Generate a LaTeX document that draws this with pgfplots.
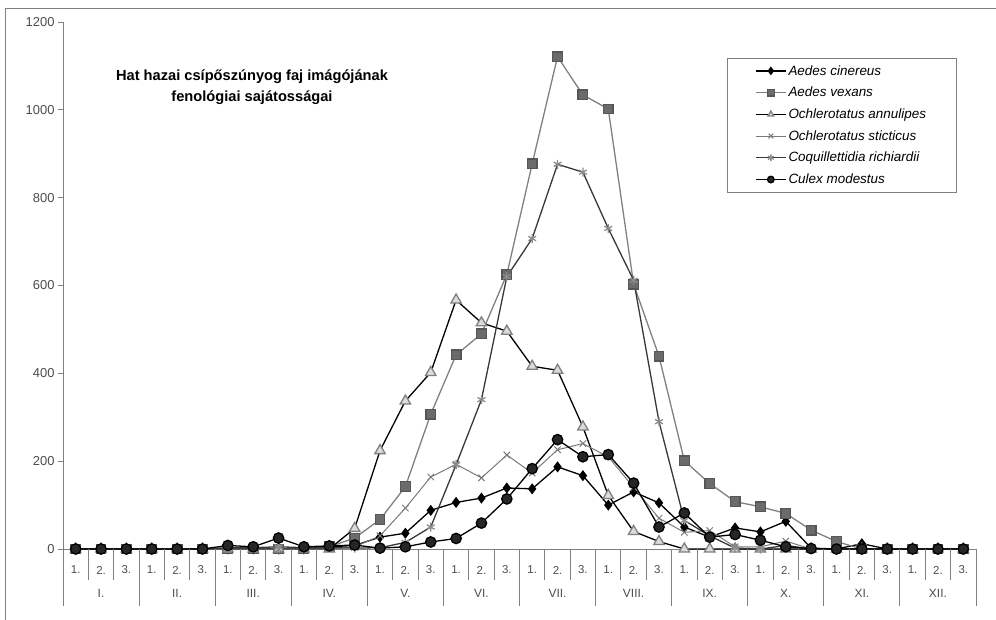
\documentclass[border=0pt]{standalone}
\usepackage{pgfplots}
\pgfplotsset{compat=1.18}
\usepackage{fontspec}
\setmainfont{Liberation Sans}
\definecolor{vexgray}{gray}{0.5}
\definecolor{vexfill}{gray}{0.42}
\definecolor{stigray}{gray}{0.48}
\definecolor{coqgray}{gray}{0.22}
\definecolor{coqmark}{gray}{0.55}
\definecolor{trifill}{gray}{0.86}
\definecolor{axgray}{gray}{0.5}
\definecolor{txtgray}{gray}{0.3}
\begin{document}
\begin{tikzpicture}[
  lbl/.style={font=\fontsize{11.5}{13}\selectfont, text=txtgray, yshift=-21bp},
  mlbl/.style={font=\fontsize{12}{13}\selectfont, text=txtgray, yshift=-44bp}]
\useasboundingbox (0,0) rectangle (996bp,620bp);
\draw[axgray, line width=0.9bp] (5bp,-5bp) -- (5bp,612bp) -- (1005bp,612bp);
\begin{axis}[
  at={(63bp,71bp)}, anchor=south west,
  scale only axis, width=913bp, height=527bp,
  xmin=0.5, xmax=36.5, ymin=0, ymax=1200,
  clip=false,
  axis x line*=bottom, axis y line*=left,
  axis line style={axgray, line width=0.9bp},
  xtick=\empty,
  ytick={0,200,...,1200},
  tick align=outside, major tick length=5bp,
  tick style={axgray, line width=0.9bp},
  yticklabel style={font=\fontsize{13}{15}\selectfont, text=txtgray},
  /pgf/number format/assume math mode=true,
  /pgf/number format/1000 sep={},
  legend style={at={(0.727,0.932)}, anchor=north west, draw=axgray, line width=0.9bp,
    font=\itshape\fontsize{13.5}{15}\selectfont, inner xsep=28bp, inner ysep=5bp,
    row sep=6.5bp, cells={anchor=west}},
  legend image code/.code={\draw[mark repeat=2,mark phase=2,#1, mark size=3.3bp] plot coordinates {(0bp,0bp) (15bp,0bp) (30bp,0bp)};},
]
% Aedes cinereus
\addplot[black, line width=1.3bp, mark=diamond*, mark size=4.5bp, mark options={fill=black, solid}] coordinates {
(1,0)(2,0)(3,0)(4,0)(5,0)(6,0)(7,0)(8,0)(9,0)(10,0)(11,5)(12,8)
(13,27)(14,36)(15,88)(16,106)(17,116)(18,139)(19,137)(20,187)(21,167)
(22,100)(23,130)(24,105)(25,50)(26,27)(27,48)(28,39)(29,63)(30,2)
(31,0)(32,12)(33,0)(34,0)(35,0)(36,0)};
\addlegendentry{Aedes cinereus}
% Aedes vexans
\addplot[vexgray, line width=1.3bp, mark=square*, mark size=4.8bp, mark options={fill=vexfill, draw=vexfill!80!black, solid}] coordinates {
(1,0)(2,0)(3,0)(4,0)(5,0)(6,0)(7,0)(8,0)(9,0)(10,0)(11,5)(12,25)
(13,67)(14,142)(15,307)(16,442)(17,490)(18,625)(19,877)(20,1121)(21,1034)
(22,1002)(23,603)(24,439)(25,201)(26,149)(27,108)(28,96)(29,81)(30,43)
(31,17)(32,0)(33,0)(34,0)(35,0)(36,0)};
\addlegendentry{Aedes vexans}
% Ochlerotatus annulipes
\addplot[black, line width=1.3bp, mark=triangle*, mark size=6bp, mark options={fill=trifill, draw=axgray, solid}] coordinates {
(1,0)(2,0)(3,0)(4,0)(5,0)(6,0)(7,0)(8,0)(9,0)(10,0)(11,0)(12,47)
(13,224)(14,337)(15,402)(16,567)(17,515)(18,496)(19,416)(20,407)(21,278)
(22,122)(23,40)(24,17)(25,0)(26,0)(27,0)(28,0)(29,0)(30,0)
(31,0)(32,0)(33,0)(34,0)(35,0)(36,0)};
\addlegendentry{Ochlerotatus annulipes}
% Ochlerotatus sticticus
\addplot[stigray, line width=1bp, mark=x, mark size=4.5bp, mark options={stigray, solid}] coordinates {
(1,0)(2,0)(3,0)(4,0)(5,0)(6,0)(7,0)(8,0)(9,0)(10,0)(11,0)(12,5)
(13,30)(14,93)(15,164)(16,193)(17,162)(18,214)(19,173)(20,226)(21,240)
(22,210)(23,140)(24,70)(25,38)(26,42)(27,5)(28,5)(29,18)(30,0)
(31,0)(32,0)(33,0)(34,0)(35,0)(36,0)};
\addlegendentry{Ochlerotatus sticticus}
% Coquillettidia richiardii
\addplot[coqgray, line width=1.3bp, mark=asterisk, mark size=4.5bp, mark options={coqmark, solid}] coordinates {
(1,0)(2,0)(3,0)(4,0)(5,0)(6,0)(7,3)(8,3)(9,5)(10,3)(11,3)(12,2)
(13,3)(14,15)(15,50)(16,192)(17,340)(18,620)(19,707)(20,876)(21,858)
(22,730)(23,612)(24,290)(25,65)(26,30)(27,2)(28,0)(29,8)(30,0)
(31,0)(32,0)(33,0)(34,0)(35,0)(36,0)};
\addlegendentry{Coquillettidia richiardii}
% Culex modestus
\addplot[black, line width=1.3bp, mark=*, mark size=5.2bp, mark options={fill=black!85, draw=black, solid}] coordinates {
(1,0)(2,0)(3,0)(4,0)(5,0)(6,0)(7,8)(8,5)(9,25)(10,5)(11,7)(12,9)
(13,2)(14,5)(15,16)(16,24)(17,59)(18,114)(19,183)(20,249)(21,210)
(22,215)(23,150)(24,50)(25,82)(26,27)(27,33)(28,20)(29,5)(30,1)
(31,0)(32,0)(33,0)(34,0)(35,0)(36,0)};
\addlegendentry{Culex modestus}
% category axis decoration
\pgfplotsinvokeforeach{1.5,2.5,4.5,5.5,7.5,8.5,10.5,11.5,13.5,14.5,16.5,17.5,19.5,20.5,22.5,23.5,25.5,26.5,28.5,29.5,31.5,32.5,34.5,35.5}{
  \draw[axgray, line width=0.9bp] (axis cs:#1,0) -- ([yshift=-31bp]axis cs:#1,0);}
\pgfplotsinvokeforeach{0.5,3.5,6.5,9.5,12.5,15.5,18.5,21.5,24.5,27.5,30.5,33.5,36.5}{
  \draw[axgray, line width=0.9bp] (axis cs:#1,0) -- ([yshift=-57bp]axis cs:#1,0);}
\pgfplotsinvokeforeach{1,4,7,10,13,16,19,22,25,28,31,34}{\node[lbl] at (axis cs:#1,0) {1.};}
\pgfplotsinvokeforeach{2,5,8,11,14,17,20,23,26,29,32,35}{\node[lbl] at (axis cs:#1,0) {2.};}
\pgfplotsinvokeforeach{3,6,9,12,15,18,21,24,27,30,33,36}{\node[lbl] at (axis cs:#1,0) {3.};}
\foreach \x/\m in {2/I.,5/II.,8/III.,11/IV.,14/V.,17/VI.,20/VII.,23/VIII.,26/IX.,29/X.,32/XI.,35/XII.}{
  \edef\temp{\noexpand\node[mlbl] at (axis cs:\x,0) {\m};}\temp}
\node[align=center, font=\bfseries\fontsize{14.7}{21}\selectfont] at (rel axis cs:0.207,0.876)
  {Hat hazai csípőszúnyog faj imágójának\\fenológiai sajátosságai};
\end{axis}
\end{tikzpicture}
\end{document}
